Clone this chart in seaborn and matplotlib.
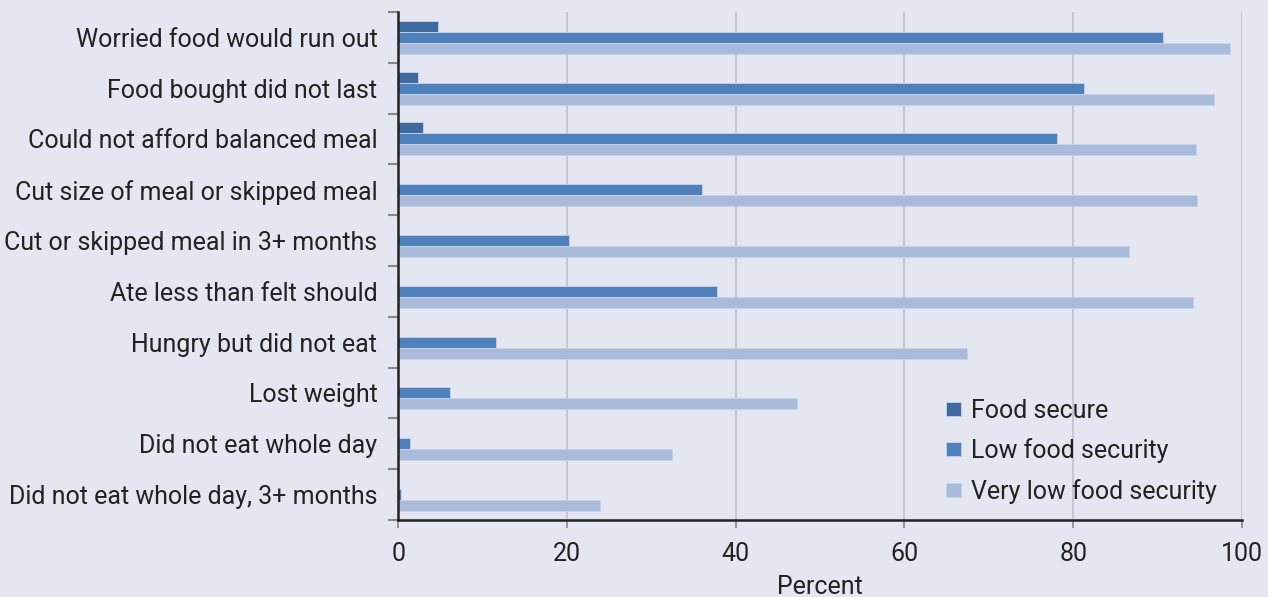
import matplotlib
matplotlib.use("Agg")
import matplotlib.pyplot as plt
import seaborn as sns
import pandas as pd
import numpy as np

# datos
categories = [
    "Worried food would run out",
    "Food bought did not last",
    "Could not afford balanced meal",
    "Cut size of meal or skipped meal",
    "Cut or skipped meal in 3+ months",
    "Ate less than felt should",
    "Hungry but did not eat",
    "Lost weight",
    "Did not eat whole day",
    "Did not eat whole day, 3+ months",
]
food_secure = [4.7, 2.3, 2.9, 0.0, 0.0, 0.15, 0.0, 0.0, 0.0, 0.0]
low_security = [90.6, 81.3, 78.1, 36.0, 20.2, 37.8, 11.6, 6.2, 1.4, 0.3]
very_low_security = [98.6, 96.7, 94.5, 94.7, 86.6, 94.2, 67.4, 47.3, 32.5, 23.9]
groups = ["Food secure", "Low food security", "Very low food security"]
colors = ["#3F6A9F", "#4F81BD", "#AABADA"]

df = pd.DataFrame({
    "category": categories * 3,
    "group": [g for g in groups for _ in categories],
    "value": food_secure + low_security + very_low_security,
})

bg = "#E4E6F1"
fs = 18
sns.set_theme(style="white")
plt.rcParams["font.family"] = ["Roboto", "DejaVu Sans"]

fig = plt.figure(figsize=(12.68, 5.97), dpi=100, facecolor=bg)
ax = fig.add_axes([0.314, 0.129, 0.6655, 0.851])
ax.set_facecolor(bg)

sns.barplot(data=df, y="category", x="value", hue="group", orient="h",
            palette=colors, width=0.65, ax=ax, saturation=1,
            edgecolor="#C8D2E6", linewidth=0.6)

ax.set_xlim(0, 100)
ax.set_ylim(9.5, -0.5)
ax.set_xticks([0, 20, 40, 60, 80, 100])
ax.xaxis.grid(True, color="#BFC1CC", linewidth=1.2)
ax.set_axisbelow(True)

for s in ["top", "right"]:
    ax.spines[s].set_visible(False)
for s in ["left", "bottom"]:
    ax.spines[s].set_color("#222222")
    ax.spines[s].set_linewidth(1.8)

# marcas de categoria en los limites
ax.set_yticks(np.arange(-0.5, 10, 1), minor=True)
ax.tick_params(axis="y", which="minor", length=7, width=1.5, color="#888888", left=True)
ax.tick_params(axis="y", which="major", length=0, pad=15, labelsize=fs, labelcolor="#222222")
ax.tick_params(axis="x", length=6, width=1.2, color="#888888", bottom=True,
               labelsize=fs, labelcolor="#222222", pad=10)

ax.set_ylabel("")
ax.set_xlabel("Percent", fontsize=fs, color="#222222", labelpad=6)

leg = ax.legend(loc="lower right", bbox_to_anchor=(0.997, -0.012), frameon=False,
                fontsize=fs, handlelength=0.6, handleheight=0.5,
                labelspacing=0.62, handletextpad=0.4)
for t in leg.get_texts():
    t.set_color("#222222")

fig.savefig("out.png", dpi=100, facecolor=bg)
